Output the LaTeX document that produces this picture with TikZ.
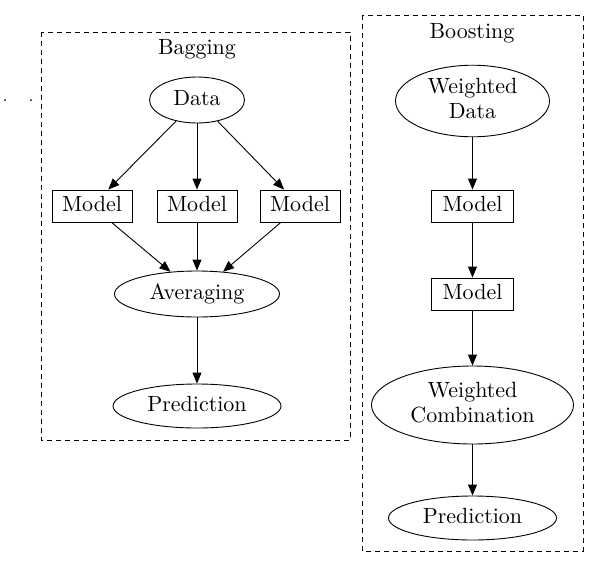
\documentclass[tikz,border=0pt]{standalone}
\usetikzlibrary{shapes.geometric,arrows.meta}
\newcommand{\txt}[1]{\scalebox{2.2}{\raisebox{-0.6pt}{\begin{tabular}{@{}c@{}}#1\end{tabular}}}}
\begin{document}
\begin{tikzpicture}[x=1pt,y=-1pt,
  every node/.style={font=\fontsize{10}{11.5}\selectfont},
  ell/.style={draw,ellipse,inner sep=0pt,line width=0.9pt,align=center},
  box/.style={draw,rectangle,inner sep=0pt,minimum width=80pt,minimum height=32pt,line width=0.9pt},
  cluster/.style={draw,dash pattern=on 5pt off 4pt,line width=0.9pt},
  arr/.style={-{Triangle[length=11pt,width=9pt]},line width=0.9pt},
  dot/.style={circle,fill,inner sep=0pt,minimum size=2pt}]
\useasboundingbox (0,0) rectangle (599,568);
% clusters
\draw[cluster] (41,32) rectangle (350,440);
\node (bagt) at (197,49) {\txt{Bagging}};
\draw[cluster] (362,15) rectangle (583,551);
\node (boot) at (472,33) {\txt{Boosting}};
% dots
\node[dot] (d1) at (5,100) {};
\node[dot] (d2) at (31,100) {};
% bagging
\node[ell,minimum width=95pt,minimum height=46pt] (data) at (197,100) {\txt{Data}};
\node[box] (m1) at (92,206) {\txt{Model}};
\node[box] (m2) at (197,206) {\txt{Model}};
\node[box] (m3) at (300,206) {\txt{Model}};
\node[ell,minimum width=165pt,minimum height=46pt] (avg) at (197,294) {\txt{Averaging}};
\node[ell,minimum width=168pt,minimum height=44pt] (pred1) at (197,406) {\txt{Prediction}};
\draw[arr] (data) -- (m1);
\draw[arr] (data) -- (m2);
\draw[arr] (data) -- (m3);
\draw[arr] (m1) -- (avg);
\draw[arr] (m2) -- (avg);
\draw[arr] (m3) -- (avg);
\draw[arr] (avg) -- (pred1);
% boosting
\node[ell,minimum width=154pt,minimum height=70pt] (wd) at (472.5,101) {\txt{Weighted\\Data}};
\node[box,minimum width=82pt] (b1) at (472.5,206) {\txt{Model}};
\node[box,minimum width=82pt] (b2) at (472.5,294) {\txt{Model}};
\node[ell,minimum width=202pt,minimum height=78pt] (wc) at (472.5,405) {\txt{Weighted\\Combination}};
\node[ell,minimum width=168pt,minimum height=44pt] (pred2) at (472.5,518) {\txt{Prediction}};
\draw[arr] (wd) -- (b1);
\draw[arr] (b1) -- (b2);
\draw[arr] (b2) -- (wc);
\draw[arr] (wc) -- (pred2);
\end{tikzpicture}
\end{document}
